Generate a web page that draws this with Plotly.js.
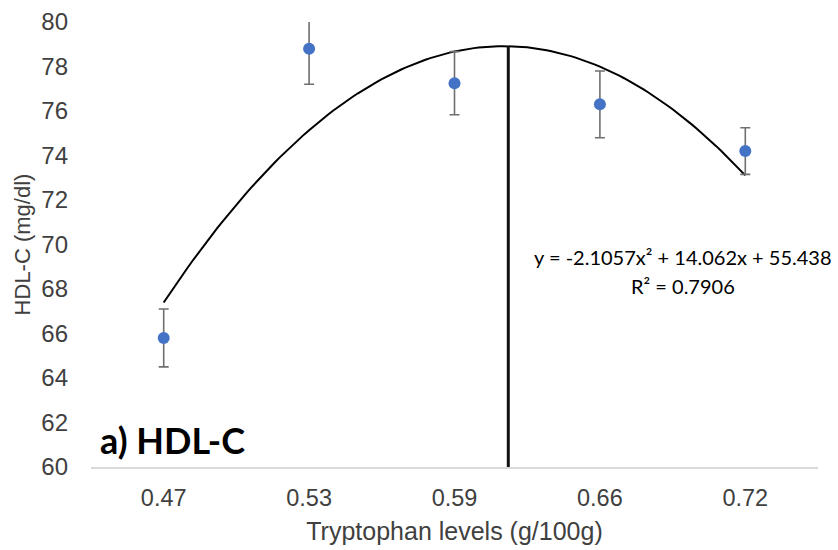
<!DOCTYPE html>
<html>
<head>
<meta charset="utf-8">
<script src="https://cdn.plot.ly/plotly-3.0.1.min.js"></script>
<style>html,body{margin:0;padding:0;background:#fff;}#chart{width:838px;height:550px;}</style>
</head>
<body>
<div id="chart"></div>
<script>
// Data
const categories = ["0.47", "0.53", "0.59", "0.66", "0.72"];
const hdlMeans = [65.8, 78.8, 77.25, 76.3, 74.2];
const hdlErrors = [1.3, 1.6, 1.42, 1.5, 1.05];
// Quadratic trendline coefficients (x = 1..n category index): a, b, c
const trendCoef = [-2.1057, 14.062, 55.438];
const rSquared = "0.7906";
// Vertical marker position (category index, 0-based)
const vertX = 2.37;

const idx = categories.map((_, i) => i);

// Trendline sampled over the category index range
const trendX = [], trendY = [];
const nSteps = 120;
for (let k = 0; k <= nSteps; k++) {
  const t = 1 + (categories.length - 1) * k / nSteps;
  trendX.push(t - 1);
  trendY.push(trendCoef[0] * t * t + trendCoef[1] * t + trendCoef[2]);
}
const tv = vertX + 1;
const peakY = trendCoef[0] * tv * tv + trendCoef[1] * tv + trendCoef[2];

const traces = [
  {
    x: trendX, y: trendY, type: "scatter", mode: "lines",
    line: {color: "#000000", width: 2}, hoverinfo: "skip", showlegend: false
  },
  {
    x: [vertX, vertX], y: [60, peakY], type: "scatter", mode: "lines",
    line: {color: "#111111", width: 3}, hoverinfo: "skip", showlegend: false, cliponaxis: false
  },
  {
    x: idx, y: hdlMeans, type: "scatter", mode: "markers",
    marker: {color: "#4472C4", size: 12},
    error_y: {type: "data", array: hdlErrors, visible: true, color: "#6f6f6f", thickness: 1.6, width: 5},
    showlegend: false
  }
];

const layout = {
  width: 838, height: 550,
  margin: {l: 91, r: 20, t: 22, b: 83},
  paper_bgcolor: "#ffffff", plot_bgcolor: "#ffffff",
  font: {family: "Liberation Sans, Arial, sans-serif", color: "#404040"},
  showlegend: false,
  xaxis: {
    range: [-0.5, 4.5], tickvals: idx, ticktext: categories,
    showgrid: false, zeroline: false, showline: true, linecolor: "#d9d9d9", linewidth: 1.5,
    ticks: "", ticklabelstandoff: 9, tickfont: {size: 23.5, color: "#404040"},
    title: {text: "Tryptophan levels (g/100g)", font: {size: 25, color: "#404040"}, standoff: 13}
  },
  yaxis: {
    range: [60, 80], tickvals: [60, 62, 64, 66, 68, 70, 72, 74, 76, 78, 80],
    showgrid: false, zeroline: false, showline: false, ticks: "",
    ticklabelstandoff: 22,
    tickfont: {size: 24, color: "#404040"},
    title: {text: "HDL-C (mg/dl)", font: {size: 22, color: "#404040"}, standoff: 4}
  },
  annotations: [
    {x: 3.57, y: 69.45, xref: "x", yref: "y", text: "y = -2.1057x² + 14.062x + 55.438",
     showarrow: false, xanchor: "center", yanchor: "middle",
     font: {family: "Lato, Open Sans, sans-serif", size: 20, color: "#000000"}},
    {x: 3.57, y: 68.15, xref: "x", yref: "y", text: "R² = " + rSquared,
     showarrow: false, xanchor: "center", yanchor: "middle",
     font: {family: "Lato, Open Sans, sans-serif", size: 20, color: "#000000"}},
    {x: -0.45, y: 61.2, xref: "x", yref: "y", text: "<b>a) HDL-C</b>",
     showarrow: false, xanchor: "left", yanchor: "middle",
     font: {family: "Lato, Open Sans, sans-serif", size: 36, color: "#000000"}}
  ]
};

Plotly.newPlot("chart", traces, layout, {displayModeBar: false, staticPlot: true});
</script>
</body>
</html>
